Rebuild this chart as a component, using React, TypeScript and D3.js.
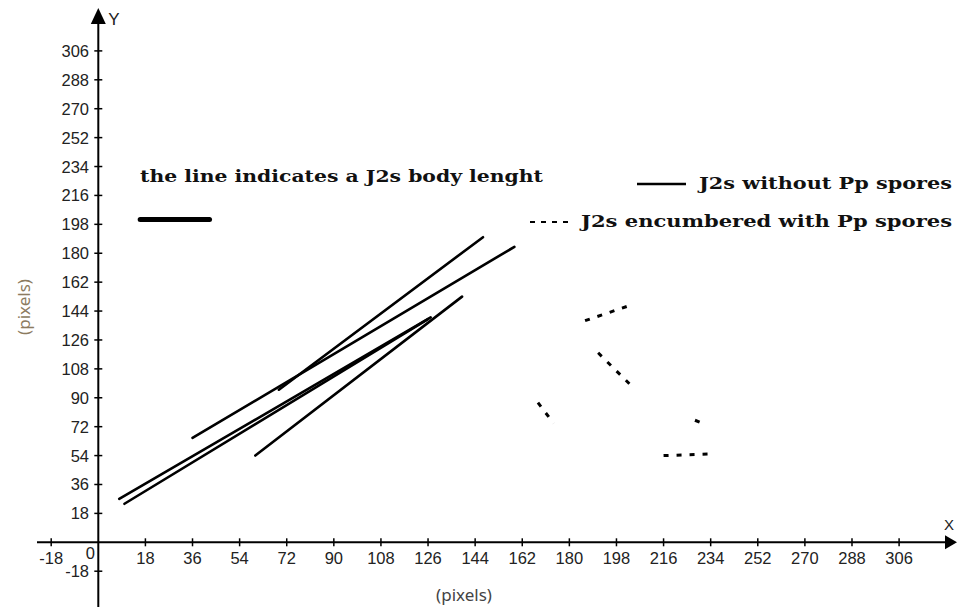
import React from "react";
import * as d3 from "d3";

// Tick values
const X_TICKS = [-18, 18, 36, 54, 72, 90, 108, 126, 144, 162, 180, 198, 216, 234, 252, 270, 288, 306];
const Y_TICKS = [-18, 18, 36, 54, 72, 90, 108, 126, 144, 162, 180, 198, 216, 234, 252, 270, 288, 306];

// J2s without Pp spores (solid): start/end points in pixel units
const SOLID_SERIES: number[][][] = [
  [[8, 27], [127, 140]],
  [[10, 24], [126, 139]],
  [[36, 65], [159, 184]],
  [[60, 54], [139, 153]],
  [[69, 95], [147, 190]],
];

// J2s encumbered with Pp spores (dashed)
const DASHED_SERIES: number[][][] = [
  [[186, 138], [204, 148]],
  [[191, 118], [204, 97]],
  [[168, 87], [174, 74]],
  [[228, 76], [231, 74]],
  [[216, 54], [234, 55]],
];

// Reference body-length bar
const SCALE_BAR: number[][] = [[16, 201], [42.5, 201]];

const TITLE = "the line indicates a J2s body lenght";
const LEGEND_LABELS = ["J2s without Pp spores", "J2s encumbered with Pp spores"];
const AXIS_TITLE = "(pixels)";

export default function App() {
  const W = 957;
  const H = 607;
  const x = d3.scaleLinear().domain([0, 306]).range([98.3, 899.1]);
  const y = d3.scaleLinear().domain([0, 306]).range([542.3, 50.9]);
  const line = d3
    .line<number[]>()
    .x((d) => x(d[0]))
    .y((d) => y(d[1]));

  const x0 = x(0);
  const y0 = y(0);
  const tickFont = "'Liberation Sans', Arial, sans-serif";
  const serif = "'DejaVu Serif', 'Liberation Serif', serif";

  return (
    <svg
      width={W}
      height={H}
      viewBox={`0 0 ${W} ${H}`}
      style={{ position: "absolute", left: 0, top: 0, background: "#fff" }}
    >
      <rect x={0} y={0} width={W} height={H} fill="#fff" />

      {/* Axes */}
      <line x1={x0} y1={22} x2={x0} y2={H} stroke="#000" strokeWidth={2} />
      <path d={`M${x0},8 L${x0 - 7.5},24 L${x0 + 7.5},24 Z`} fill="#000" />
      <text x={x0 + 10} y={25} fontFamily={tickFont} fontSize={17} fill="#222">
        Y
      </text>
      <line x1={37} y1={y0} x2={947} y2={y0} stroke="#000" strokeWidth={2} />
      <path d={`M957,${y0} L945,${y0 - 7} L945,${y0 + 7} Z`} fill="#000" />
      <text x={944} y={530} fontFamily={tickFont} fontSize={15} fill="#222">
        X
      </text>

      {/* X ticks */}
      {X_TICKS.map((v) => (
        <g key={"xt" + v}>
          <line x1={x(v)} x2={x(v)} y1={y0 - 4} y2={y0 + 4} stroke="#000" strokeWidth={1.5} />
          <text
            x={x(v)}
            y={564}
            textAnchor="middle"
            fontFamily={tickFont}
            fontSize={16.5}
            fill="#222"
          >
            {v}
          </text>
        </g>
      ))}
      <text x={x0 - 8} y={559} textAnchor="middle" fontFamily={tickFont} fontSize={16.5} fill="#222">
        0
      </text>

      {/* Y ticks */}
      {Y_TICKS.map((v) => (
        <g key={"yt" + v}>
          <line x1={x0 - 4} x2={x0 + 4} y1={y(v)} y2={y(v)} stroke="#000" strokeWidth={1.5} />
          <text
            x={89}
            y={y(v) + 6}
            textAnchor="end"
            fontFamily={tickFont}
            fontSize={16.5}
            fill="#222"
          >
            {v}
          </text>
        </g>
      ))}

      {/* Axis titles */}
      <text
        x={464}
        y={601}
        textAnchor="middle"
        fontFamily="'Noto Sans', 'Open Sans', sans-serif"
        fontSize={17}
        fill="#444"
      >
        {AXIS_TITLE}
      </text>
      <text
        transform={`translate(30,307) rotate(-90)`}
        textAnchor="middle"
        fontFamily="'Noto Sans', 'Open Sans', sans-serif"
        fontSize={17}
        fill="#8c7b60"
      >
        {AXIS_TITLE}
      </text>

      {/* Annotation */}
      <text
        x={140}
        y={182}
        fontFamily={serif}
        fontWeight="bold"
        fontSize={17.5}
        fill="#111"
        textLength={403}
        lengthAdjust="spacingAndGlyphs"
      >
        {TITLE}
      </text>
      <path
        d={line(SCALE_BAR) || ""}
        stroke="#000"
        strokeWidth={5}
        strokeLinecap="round"
        fill="none"
      />

      {/* Legend */}
      <line x1={637} x2={686} y1={184} y2={184} stroke="#000" strokeWidth={2.5} />
      <text
        x={699}
        y={189}
        fontFamily={serif}
        fontWeight="bold"
        fontSize={17.5}
        fill="#111"
        textLength={253}
        lengthAdjust="spacingAndGlyphs"
      >
        {LEGEND_LABELS[0]}
      </text>
      <line
        x1={530}
        x2={570}
        y1={222}
        y2={222}
        stroke="#000"
        strokeWidth={2}
        strokeDasharray="5,6"
      />
      <text
        x={581}
        y={227}
        fontFamily={serif}
        fontWeight="bold"
        fontSize={17.5}
        fill="#111"
        textLength={371}
        lengthAdjust="spacingAndGlyphs"
      >
        {LEGEND_LABELS[1]}
      </text>

      {/* Solid series */}
      {SOLID_SERIES.map((s, i) => (
        <path key={"s" + i} d={line(s) || ""} stroke="#000" strokeWidth={2.6} fill="none" strokeLinecap="round" />
      ))}

      {/* Dashed series */}
      {DASHED_SERIES.map((s, i) => (
        <path
          key={"d" + i}
          d={line(s) || ""}
          stroke="#000"
          strokeWidth={3}
          fill="none"
          strokeDasharray="5,8"
        />
      ))}
    </svg>
  );
}
